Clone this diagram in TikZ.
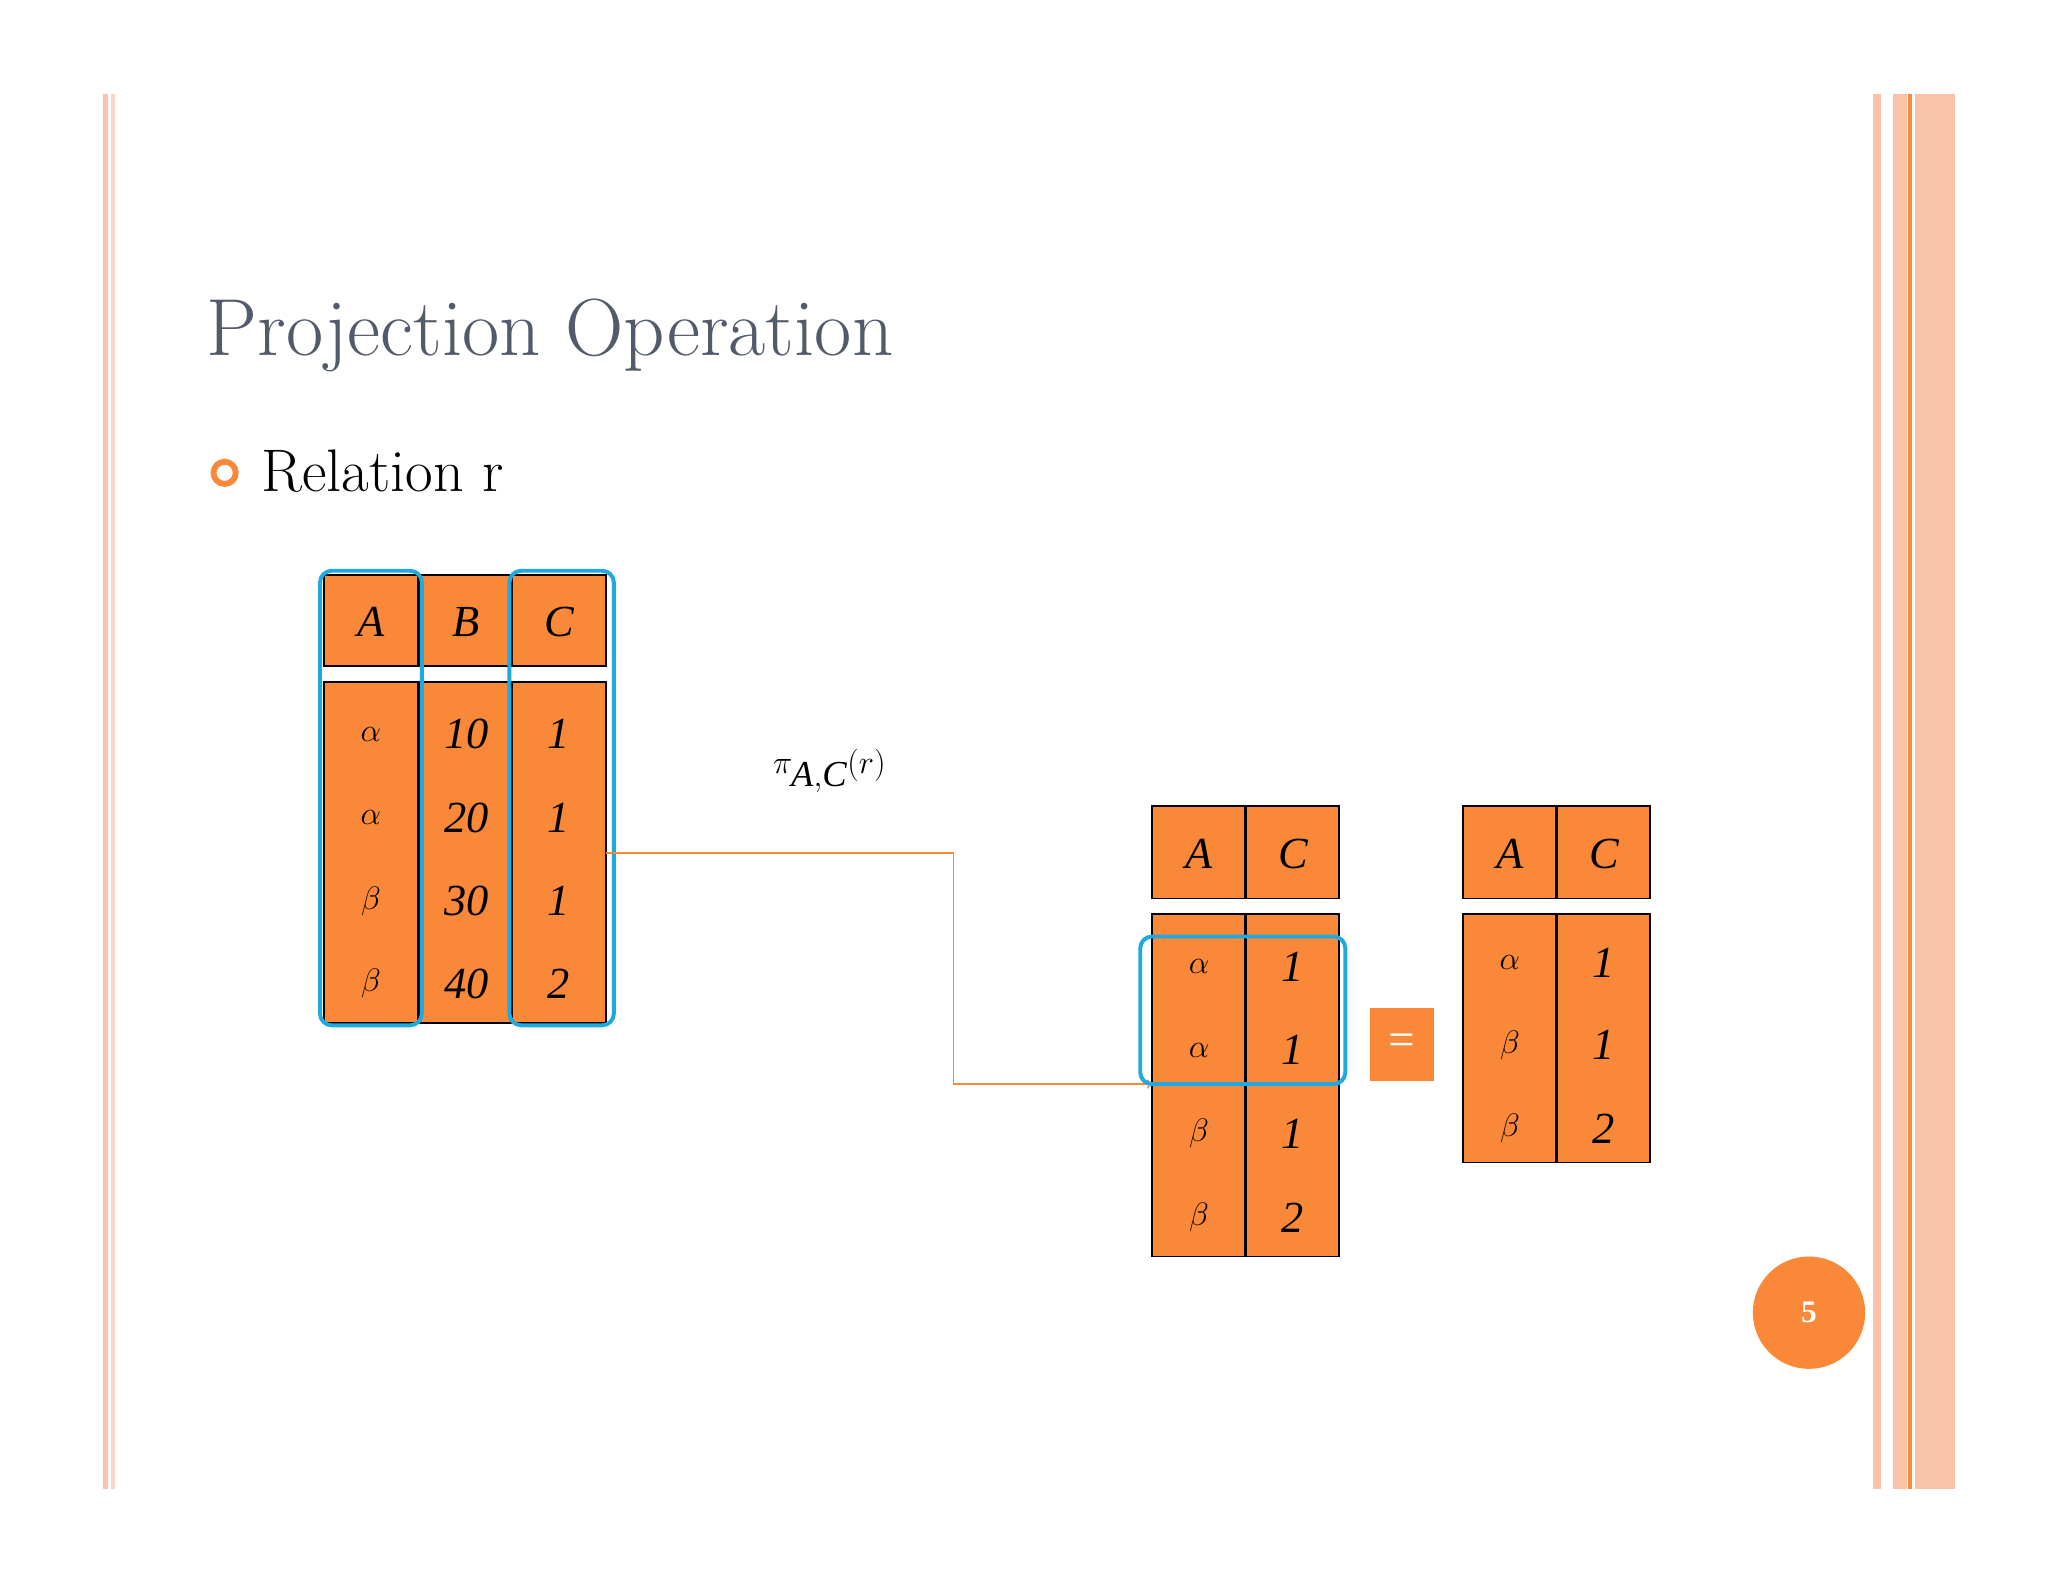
\documentclass[tikz,border=0pt]{standalone}
\usepackage{fontspec}
\setmainfont{Liberation Serif}
\newfontfamily\lmr{Latin Modern Roman}
\begin{document}
\begin{tikzpicture}[x=1pt,y=-1pt,
  cell/.style={draw=black,line width=1.3,fill=orgC},
  val/.style={font=\fontsize{34}{34}\selectfont\itshape},
  sel/.style={draw=blueC,line width=3,rounded corners=9}]
\definecolor{orgC}{HTML}{F98838}
\definecolor{blueC}{HTML}{1FA9E1}
\definecolor{salm}{HTML}{F9C3AA}
\definecolor{titC}{HTML}{525B6B}
\useasboundingbox (0,0) rectangle (1568,1211);
\fill[white] (0,0) rectangle (1568,1211);
% side bars
\fill[salm] (79,72) rectangle (83,1140);
\fill[salm!70] (85,72) rectangle (88,1140);
\fill[salm] (1434,72) rectangle (1440,1140);
\fill[salm] (1449,72) rectangle (1460,1140);
\fill[orgC] (1461,72) rectangle (1464,1140);
\fill[salm] (1466,72) rectangle (1497,1140);
% title
\node[anchor=base west,text=titC,inner sep=0] (title) at (158,272) {\lmr\fontsize{62}{62}\selectfont\textsc{Projection Operation}};
\draw[orgC,line width=4.5] (172,362) circle (8.5) coordinate (bul);
\node[anchor=base west,inner sep=0] (rel) at (200,376) {\lmr\fontsize{46}{46}\selectfont Relation r};
% table r
\foreach \x/\l [count=\i] in {248/A,321/B,392/C}{
  \draw[cell] (\x,440) rectangle ++(72,70);
  \node[val] (h\i) at (\x+36,476) {\l};
  \draw[cell] (\x,522) rectangle ++(72,261);
}
\foreach \y/\a/\b/\c [count=\j] in {562/$\alpha$/10/1,626/$\alpha$/20/1,690/$\beta$/30/1,753/$\beta$/40/2}{
  \node[val] at (284,\y) {\a};
  \node[val] at (357,\y) {\b};
  \node[val] at (428,\y) {\c};
}
\coordinate (rout) at (464,653);
\draw[sel] (245,437) rectangle (323,785);
\draw[sel] (390,437) rectangle (470,785);
\node (pi) at (635,590) {\fontsize{40}{40}\selectfont$\pi_{\mathit{A,C}}(r)$};
% middle
\foreach \x/\l in {882/A,954/C}{
  \draw[cell] (\x,617) rectangle ++(71,71);
  \node[val] at (\x+36,654) {\l};
  \draw[cell] (\x,700) rectangle ++(71,262);
}
\foreach \y/\a/\c in {740/$\alpha$/1,804/$\alpha$/1,868/$\beta$/1,932/$\beta$/2}{
  \node[val] at (918,\y) {\a};
  \node[val] at (990,\y) {\c};
}
\coordinate (min) at (882,830);
\draw[orgC,line width=1.5,->] (rout) -- (730,653) -- (730,830) -- (min);
\draw[sel] (873,717) rectangle (1030,830);
\node[fill=orgC,minimum width=49,minimum height=56,text=white,font=\fontsize{36}{36}\selectfont] (eq) at (1073.5,800) {=};
% right
\foreach \x/\l in {1120/A,1192/C}{
  \draw[cell] (\x,617) rectangle ++(71,71);
  \node[val] at (\x+36,654) {\l};
  \draw[cell] (\x,700) rectangle ++(71,190);
}
\foreach \y/\a/\c in {737/$\alpha$/1,800/$\beta$/1,864/$\beta$/2}{
  \node[val] at (1156,\y) {\a};
  \node[val] at (1228,\y) {\c};
}
\node[circle,fill=orgC,minimum size=86,text=white,font=\fontsize{24}{24}\selectfont\bfseries] (pg) at (1385,1005) {5};
\end{tikzpicture}
\end{document}
